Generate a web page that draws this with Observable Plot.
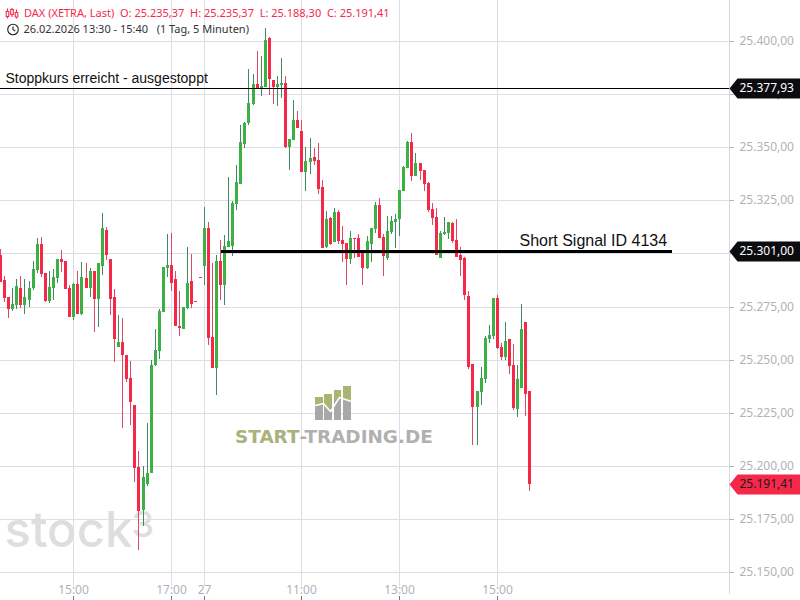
<!DOCTYPE html>
<html>
<head>
<meta charset="utf-8">
<style>html,body{margin:0;padding:0;background:#fff}svg{display:block}</style>
<script src="https://cdn.jsdelivr.net/npm/d3@7"></script>
<script src="https://cdn.jsdelivr.net/npm/@observablehq/plot@0.6"></script>
</head>
<body>
<script>
const opens = [25299.3,25287.5,25279.5,25273.9,25275.8,25283.8,25275.8,25278.1,25283.8,25292.2,25304.5,25290.8,25277.6,25283.8,25288.5,25297.4,25296.5,25283.8,
25270.1,25285.6,25271.5,25288.5,25283.8,25291.8,25278.6,25294.1,25311.1,25297.4,25279.5,25256.0,25258.3,25252.2,25241.4,25228.7,25199.5,25179.3,25191.5,25196.7,25247.5,25254.1,25272.5,25293.2,
25294.6,25288.0,25265.9,25264.5,25274.3,25287.1,25277.6,25288.9,
25294.1,25312.0,25260.7,25246.1,25296.5,25285.2,25303.1,25303.5,25323.3,25332.7,25351.5,25361.4,25370.3,25379.8,25377.9,25378.4,25401.4,25381.6,25378.4,25379.3,25380.2,25350.1,25353.4,25362.8,
25357.6,25338.4,25343.1,25345.4,25344.0,25331.3,25303.1,25316.7,25305.4,25319.5,25306.3,25304.9,25297.4,25307.3,25307.3,25300.7,25293.2,25304.5,25311.5,25322.8,25307.8,25297.9,25310.1,25314.8,
25316.2,25329.4,25340.2,25352.5,25336.5,25342.6,25339.3,25333.2,25320.9,25317.2,25297.9,25309.2,25309.6,25314.3,25306.3,25299.3,25297.9,25280.0,25248.0,25227.8,25234.8,25240.9,25259.8,25261.2,
25279.0,25256.0,25251.3,25259.8,25247.5,25226.8,25236.7,25267.8,25235.37];
const highs = [25302.1,25289.4,25279.5,25283.8,25288.0,25289.4,25288.0,25287.1,25296.5,25307.3,25307.8,25290.8,25291.8,25292.7,25297.4,25301.6,25296.5,25285.2,
25286.1,25291.8,25296.0,25295.5,25293.2,25291.8,25295.5,25319.1,25312.5,25297.4,25283.3,25271.0,25269.6,25252.2,25249.4,25228.7,25207.0,25200.0,25220.2,25249.9,25264.5,25273.9,25293.6,25309.2,
25309.6,25291.8,25282.4,25274.8,25303.1,25299.8,25277.6,25288.9,
25321.9,25314.8,25295.5,25299.3,25306.3,25308.7,25336.0,25324.7,25341.6,25360.5,25361.9,25386.8,25384.5,25395.3,25392.9,25406.1,25401.9,25381.6,25383.5,25392.0,25383.5,25353.9,25372.2,25367.1,
25362.8,25350.1,25354.4,25349.6,25352.0,25334.6,25320.0,25317.2,25321.4,25320.5,25312.9,25304.9,25310.6,25307.3,25309.2,25300.7,25308.2,25312.0,25324.2,25326.1,25309.2,25317.6,25317.6,25318.6,
25329.9,25341.2,25353.0,25356.7,25347.3,25342.6,25339.3,25333.6,25323.8,25321.4,25310.6,25317.2,25314.8,25314.8,25316.2,25303.1,25298.3,25282.4,25248.0,25235.3,25246.6,25261.2,25266.3,25279.0,
25280.5,25257.9,25267.8,25259.8,25257.4,25247.5,25276.2,25267.8,25235.37];
const lows = [25286.6,25277.2,25269.6,25272.9,25273.9,25274.3,25271.5,25274.8,25282.8,25290.8,25288.9,25277.2,25276.7,25278.1,25286.1,25291.3,25283.3,25270.1,
25268.7,25271.5,25271.0,25283.8,25279.5,25263.1,25265.4,25289.9,25296.9,25271.0,25248.9,25256.0,25217.9,25239.5,25219.3,25192.5,25160.5,25171.7,25190.6,25196.7,25247.0,25250.3,25272.5,25288.9,
25282.4,25265.9,25261.2,25264.5,25273.9,25274.3,25277.2,25288.5,
25285.2,25256.9,25246.1,25233.4,25278.1,25275.8,25303.1,25298.8,25320.5,25332.7,25349.6,25360.5,25369.9,25377.9,25374.1,25378.4,25374.6,25370.3,25369.4,25373.2,25349.6,25339.3,25353.4,25359.1,
25338.4,25329.4,25337.4,25341.6,25328.0,25302.6,25302.6,25304.0,25305.4,25304.5,25296.0,25285.2,25295.1,25297.9,25298.3,25285.2,25292.7,25296.0,25309.6,25307.3,25289.4,25296.9,25309.2,25302.6,
25308.2,25329.4,25340.2,25334.1,25336.5,25334.6,25329.4,25319.5,25313.4,25299.3,25297.9,25308.7,25306.8,25304.9,25298.3,25289.4,25278.1,25245.6,25209.9,25209.9,25228.7,25239.1,25257.9,25259.8,
25255.1,25249.9,25249.9,25243.3,25226.3,25223.0,25236.7,25223.5,25188.30];
const closes = [25286.6,25279.0,25273.9,25276.2,25284.7,25275.8,25279.5,25283.8,25292.7,25304.5,25290.3,25277.6,25284.2,25288.9,25297.4,25296.0,25283.3,25270.1,
25285.6,25271.5,25288.9,25283.8,25291.8,25278.6,25295.5,25312.0,25299.3,25278.6,25259.8,25258.3,25252.2,25240.9,25230.1,25199.0,25178.8,25194.8,25196.7,25247.5,25254.6,25272.9,25293.6,25294.6,
25286.1,25265.9,25264.9,25274.8,25286.1,25276.2,25277.2,25288.5,
25312.0,25260.2,25246.1,25296.5,25285.2,25303.5,25305.9,25323.8,25333.6,25352.5,25361.4,25370.8,25379.8,25377.9,25378.8,25400.5,25382.1,25378.4,25379.8,25380.2,25350.1,25353.9,25362.8,25359.1,
25338.4,25343.5,25344.9,25343.5,25330.3,25302.6,25316.2,25304.5,25319.5,25305.9,25304.5,25297.4,25307.3,25306.8,25298.3,25293.2,25305.9,25312.0,25322.8,25307.3,25298.8,25310.6,25315.3,25316.2,
25329.9,25340.7,25352.5,25336.5,25342.6,25338.8,25332.7,25320.5,25316.7,25299.3,25309.6,25310.1,25314.8,25305.9,25298.3,25296.9,25280.5,25246.6,25227.8,25235.3,25241.4,25260.2,25261.6,25279.0,
25255.5,25251.3,25258.8,25247.0,25227.3,25240.9,25264.5,25233.9,25191.41];
const firstIndex = -18;

const priceTicks = [25400,25375,25350,25325,25300,25275,25250,25225,25200,25175,25150];
const timeTicks = [0,24,32,56,80,104];
const timeLabels = ["15:00","17:00","27","11:00","13:00","15:00"];
const stopPrice = 25377.93;
const signalPrice = 25301.00;
const lastPrice = 25191.41;
const signalFrom = 36.2, signalTo = 147;

const logoX1 = [59.3,61.6,64.0,66.2];
const logoX2 = [61.3,63.5,65.7,68.2];
const logoTop = [25232.5,25233.9,25235.8,25237.6];
const logoMid = [25229.2,25227.3,25231.5,25230.6];
const logoBase = 25221.6;
const logoLineX = [59.4,61.3,63.0,65.2,68.2];
const logoLineY = [25228.7,25229.6,25225.9,25232.5,25230.6];

const candles = opens.map((o,i)=>({k:firstIndex+i,open:o,high:highs[i],low:lows[i],close:closes[i]}));
const up = d=>d.close>=d.open;
const down = d=>d.close<d.open;
const logoBars = logoX1.map((x,i)=>({x1:x,x2:logoX2[i],top:logoTop[i],mid:logoMid[i]}));
const logoLine = logoLineX.map((x,i)=>({x,y:logoLineY[i]}));

const GREEN="#3cb043", RED="#f5284a", GREENW="#3f8a62", REDW="#dc4a66", GRID="#dcdde6", TICK="#b1b2b9";
const kRight=160.99, yTop=25419.3, yBottom=25138.8, gridEnd=25143.7;
const de=d=>d.toLocaleString("de-DE",{minimumFractionDigits:2,maximumFractionDigits:2});

const tag={draw(c){c.moveTo(0,0);c.lineTo(8,-10);c.lineTo(71,-10);c.lineTo(71,10);c.lineTo(8,10);c.closePath();}};
const barsIcon={draw(c){
  for(const [x,a,b,t,u] of [[-4.5,-2,3,-5,5],[0,-4,1,-5.5,3.5],[4.5,-1,3.5,-4,5]]){
    c.moveTo(x-1.3,a);c.lineTo(x+1.3,a);c.lineTo(x+1.3,b);c.lineTo(x-1.3,b);c.closePath();
    c.moveTo(x,t);c.lineTo(x,a);c.moveTo(x,b);c.lineTo(x,u);
  }}};
const clockIcon={draw(c){c.moveTo(5.3,0);c.arc(0,0,5.3,0,Math.PI*2);c.moveTo(0,-3);c.lineTo(0,0);c.lineTo(2.3,1.6);}};

const chart=Plot.plot({
  width:800,height:600,marginTop:0,marginLeft:0,marginRight:71,marginBottom:4,
  style:{background:"#fff",fontFamily:"'Noto Sans',sans-serif"},
  x:{type:"linear",domain:[firstIndex,kRight],round:true,axis:null},
  y:{type:"linear",domain:[yBottom,yTop],round:true,axis:null},
  marks:[
    Plot.ruleX(timeTicks,{x:d=>d,y1:gridEnd,y2:yTop,stroke:GRID}),
    Plot.ruleY(priceTicks,{y:d=>d,x1:firstIndex,x2:kRight,stroke:GRID}),
    Plot.ruleX([kRight],{x:d=>d,y1:yBottom+0.9,y2:yTop,stroke:"#d5d6de",clip:false}),
    Plot.axisY(priceTicks,{anchor:"right",label:null,tickSize:4,tickPadding:6,tickFormat:de,fontSize:12,color:TICK,stroke:TICK}),
    Plot.axisX(timeTicks,{anchor:"bottom",label:null,tickSize:4,tickPadding:-10,lineAnchor:"middle",tickFormat:(d,i)=>timeLabels[i],fontSize:12,color:TICK,stroke:"#777",fill:TICK}),
    // watermarks
    Plot.text(["stock"],{x:[firstIndex],y:[25162.3],dx:4,text:d=>d,textAnchor:"start",lineAnchor:"bottom",fontFamily:"Inter",fontWeight:500,fontSize:49,fill:"#dedede"}),
    Plot.text(["3"],{x:[firstIndex],y:[25167.0],dx:131,text:d=>d,textAnchor:"start",lineAnchor:"bottom",fontFamily:"Inter",fontWeight:500,fontSize:36,fill:"#dedede"}),
    Plot.rect(logoBars,{x1:"x1",x2:"x2",y1:"mid",y2:"top",fill:"#a9b66f"}),
    Plot.rect(logoBars,{x1:"x1",x2:"x2",y1:()=>logoBase,y2:"mid",fill:"#a8a8a8"}),
    Plot.line(logoLine,{x:"x",y:"y",stroke:"#fff",strokeWidth:1.5}),
    Plot.text(["START"],{x:[55.4],y:[25213.6],text:d=>d,textAnchor:"end",fontFamily:"DejaVu Sans",fontWeight:700,fontSize:18.4,fill:"#a8b27a"}),
    Plot.text(["-TRADING.DE"],{x:[55.4],y:[25213.6],text:d=>d,textAnchor:"start",fontFamily:"DejaVu Sans",fontWeight:700,fontSize:18.4,fill:"#b0b0b0"}),
    // candles
    Plot.ruleX(candles,{filter:up,x:"k",y1:"low",y2:"high",stroke:GREENW}),
    Plot.ruleX(candles,{filter:down,x:"k",y1:"low",y2:"high",stroke:REDW}),
    Plot.ruleX(candles,{filter:up,x:"k",y1:"open",y2:"close",stroke:GREEN,strokeWidth:3}),
    Plot.ruleX(candles,{filter:down,x:"k",y1:"open",y2:"close",stroke:RED,strokeWidth:3}),
    // annotations
    Plot.ruleY([stopPrice],{y:d=>d,x1:firstIndex,x2:kRight,stroke:"#000",strokeWidth:1}),
    Plot.ruleY([signalPrice],{y:d=>d,x1:signalFrom,x2:signalTo,stroke:"#000",strokeWidth:3}),
    Plot.text(["Stoppkurs erreicht - ausgestoppt"],{x:[-16.8],y:[25382.6],text:d=>d,textAnchor:"start",fontFamily:"Liberation Sans",fontSize:14,fill:"#111"}),
    Plot.text(["Short Signal ID 4134"],{x:[109.4],y:[25306.3],text:d=>d,textAnchor:"start",fontFamily:"Liberation Sans",fontSize:16,fill:"#111"}),
    // price tags
    Plot.dot([stopPrice],{x:()=>kRight,y:d=>d,symbol:tag,fill:"#0b0b10",stroke:"none"}),
    Plot.dot([signalPrice],{x:()=>kRight,y:d=>d,symbol:tag,fill:"#0b0b10",stroke:"none"}),
    Plot.dot([lastPrice],{x:()=>kRight,y:d=>d,symbol:tag,fill:RED,stroke:"none"}),
    Plot.text([stopPrice],{x:()=>kRight,y:d=>d,dx:10,text:de,textAnchor:"start",fontSize:12,fill:"#fff"}),
    Plot.text([signalPrice],{x:()=>kRight,y:d=>d,dx:10,text:de,textAnchor:"start",fontSize:12,fill:"#fff"}),
    Plot.text([lastPrice],{x:()=>kRight,y:d=>d,dx:10,text:de,textAnchor:"start",fontSize:12,fill:"#1a1a1a"}),
    // header
    Plot.dot([0],{frameAnchor:"top-left",dx:11.5,dy:13,symbol:barsIcon,fill:"none",stroke:RED,strokeWidth:1.1}),
    Plot.text(["DAX (XETRA, Last)\u00a0\u00a0O: 25.235,37\u00a0\u00a0H: 25.235,37\u00a0\u00a0L: 25.188,30\u00a0\u00a0C: 25.191,41"],{frameAnchor:"top-left",dx:23.5,dy:13,text:d=>d,textAnchor:"start",lineAnchor:"middle",fontSize:11,fill:RED}),
    Plot.dot([0],{frameAnchor:"top-left",dx:12.5,dy:29,symbol:clockIcon,fill:"none",stroke:"#222",strokeWidth:1.1}),
    Plot.text(["26.02.2026 13:30 - 15:40\u00a0\u00a0\u00a0(1 Tag, 5 Minuten)"],{frameAnchor:"top-left",dx:23,dy:29,text:d=>d,textAnchor:"start",lineAnchor:"middle",fontSize:11,fill:"#333"})
  ]
});
document.body.appendChild(chart);
</script>
</body>
</html>
